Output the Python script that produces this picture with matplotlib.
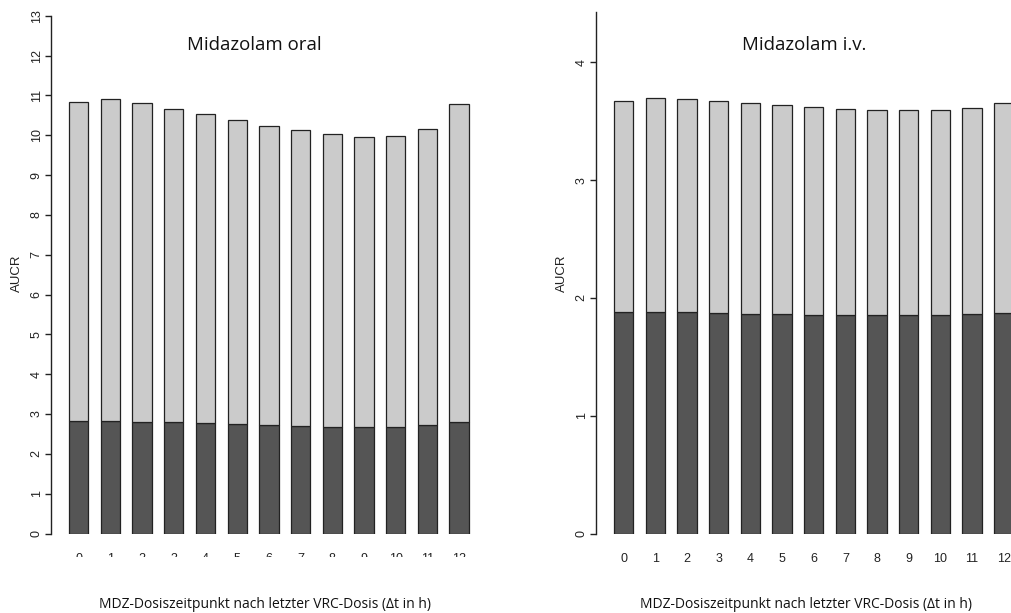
import matplotlib
matplotlib.use("Agg")
import matplotlib.pyplot as plt
from matplotlib.patches import Rectangle
import numpy as np

# ---- data ----
dt_hours = list(range(13))
tick_labels = [str(h) for h in dt_hours]

oral_total = [10.84, 10.92, 10.80, 10.67, 10.53, 10.39, 10.24, 10.12, 10.02, 9.96, 9.97, 10.15, 10.79]
oral_dark = [2.82, 2.83, 2.81, 2.79, 2.77, 2.74, 2.72, 2.70, 2.68, 2.67, 2.68, 2.72, 2.81]

iv_total = [3.668, 3.695, 3.688, 3.675, 3.658, 3.642, 3.625, 3.608, 3.595, 3.592, 3.595, 3.615, 3.658]
iv_dark = [1.877, 1.880, 1.877, 1.870, 1.866, 1.860, 1.856, 1.853, 1.853, 1.853, 1.856, 1.860, 1.870]

titles = ["Midazolam oral", "Midazolam i.v."]
xlabel = "MDZ-Dosiszeitpunkt nach letzter VRC-Dosis (\u0394t in h)"
ylabel = "AUCR"

W, H = 1011, 613
fig = plt.figure(figsize=(W / 100, H / 100), dpi=100)

def fx(px):
    return px / W

def fy(py):
    return 1 - py / H

DARK = "#555555"
LIGHT = "#cbcbcb"
EDGE = "#222222"

def make_panel(ax_left_px, ax_right_px, first_center_px, spacing_px, y0_px, ytop_px, ytop_val,
               totals, darks, yticks, title, title_x, xlabel_x, ylabel_x):
    ax = fig.add_axes([fx(ax_left_px), fy(y0_px), fx(ax_right_px - ax_left_px),
                       (y0_px - ytop_px) / H])
    xmin = (ax_left_px - first_center_px) / spacing_px
    xmax = (ax_right_px - first_center_px) / spacing_px
    x = np.array(dt_hours)
    width = 19.3 / spacing_px
    light_part = [t - d for t, d in zip(totals, darks)]
    ax.bar(x, darks, width=width, color=DARK, edgecolor=EDGE, linewidth=0.9)
    ax.bar(x, light_part, bottom=darks, width=width, color=LIGHT, edgecolor=EDGE, linewidth=0.9)
    ax.set_xlim(xmin, xmax)
    ax.set_ylim(0, ytop_val)
    for s in ["top", "right", "bottom"]:
        ax.spines[s].set_visible(False)
    ax.spines["left"].set_color("#222222")
    ax.spines["left"].set_linewidth(1.0)
    ax.set_xticks(x)
    ax.set_xticklabels(tick_labels, fontsize=9, family="Liberation Sans", color="#222222")
    ax.tick_params(axis="x", length=0, pad=14)
    ax.set_yticks(yticks)
    ax.set_yticklabels([str(v) for v in yticks], rotation=90, va="center",
                       fontsize=9, family="Liberation Sans", color="#222222")
    ax.tick_params(axis="y", length=4, width=1.0, pad=2, color="#222222")
    fig.text(fx(title_x), fy(45), title, ha="center", va="center",
             fontsize=13.4, family="Open Sans", color="#111111")
    fig.text(fx(xlabel_x), fy(604), xlabel, ha="center", va="center",
             fontsize=10, family="Open Sans", color="#111111")
    fig.text(fx(ylabel_x), fy(273), ylabel, ha="center", va="center", rotation=90,
             fontsize=9.5, family="Liberation Sans", color="#222222")
    return ax

make_panel(51, 482, 78.7, 31.7, 533.5, 15.7, 13.0, oral_total, oral_dark,
           list(range(14)), titles[0], 254, 265, 17)
make_panel(596, 1011, 623.7, 31.67, 533.5, 11.7, 4.43, iv_total, iv_dark,
           [0, 1, 2, 3, 4], titles[1], 804, 806, 562)

# the left panel's x tick labels are cropped at the bottom in the source image
fig.patches.append(Rectangle((fx(55), fy(567)), fx(430), 10 / H, transform=fig.transFigure,
                             facecolor="white", edgecolor="none", zorder=10))

fig.savefig("out.png", dpi=100, facecolor="white")
